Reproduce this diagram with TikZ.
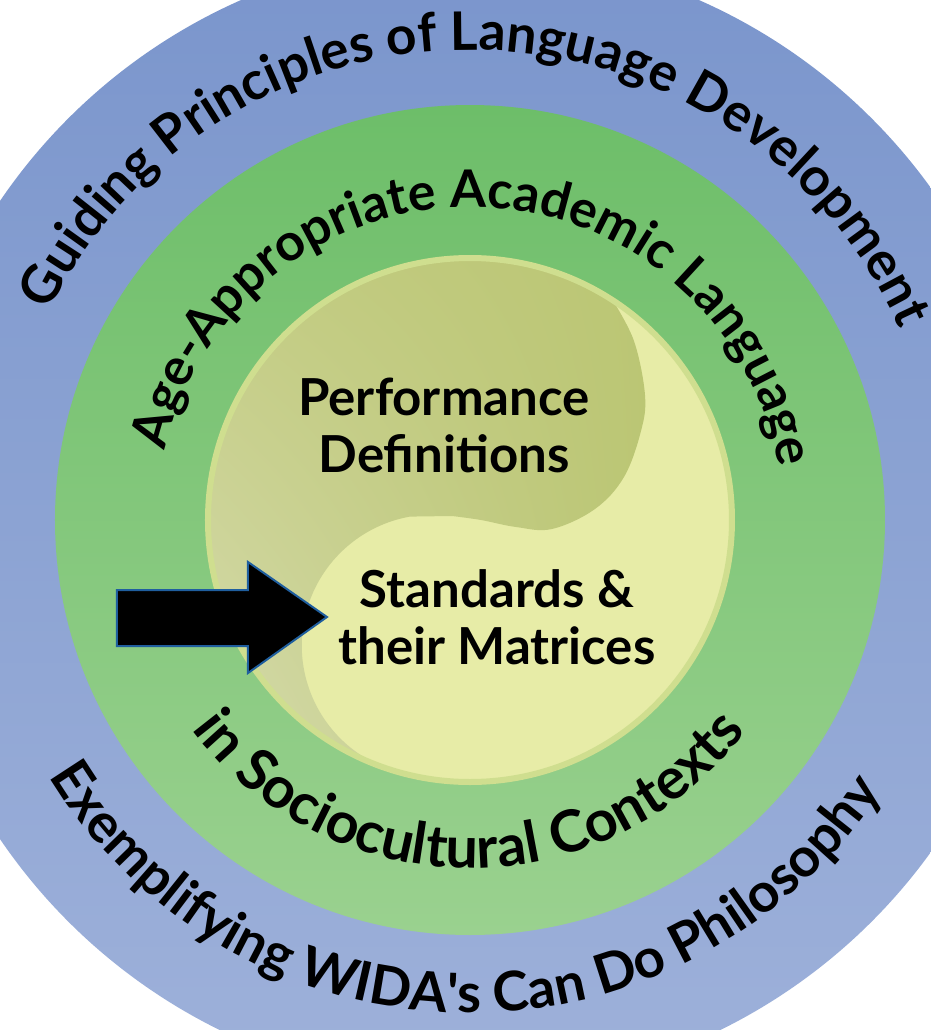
\documentclass[tikz,border=0pt]{standalone}
\usepackage{fontspec}
\newfontfamily\lato{Lato}
\usetikzlibrary{decorations.text,shadings}

\definecolor{ringblueTop}{HTML}{7A95CC}
\definecolor{ringblueBot}{HTML}{9EB1DA}
\definecolor{ringgreenTop}{HTML}{6DBE69}
\definecolor{ringgreenBot}{HTML}{9AD18F}
\definecolor{corelight}{HTML}{E7ECA7}
\definecolor{corerim}{HTML}{CFDE8F}
\definecolor{oliveA}{HTML}{BBC674}
\definecolor{oliveB}{HTML}{C2CB80}
\definecolor{oliveC}{HTML}{D7DCB0}
\definecolor{arrowline}{HTML}{1F5E9E}

\newcommand\ringfont[1]{\lato\bfseries\fontsize{#1}{#1}\selectfont}
\newcommand\corefont{\lato\bfseries\fontsize{25.5}{28.5}\selectfont}

\begin{document}
\begin{tikzpicture}[x=0.5pt,y=0.5pt,
  ringtext/.style={decorate, decoration={text along path, text align=center, text={#1}}},
  corelabel/.style={font=\corefont, align=center, inner sep=0pt},
]
\clip (-470,-510) rectangle (461,520);

% outer and middle rings
\shade[top color=ringblueTop, bottom color=ringblueBot] (0,0) circle[radius=568];
\shade[top color=ringgreenTop, bottom color=ringgreenBot] (0,0) circle[radius=415];

% core disk with its two interlocking halves
\fill[corelight] (0,0) circle[radius=264];
\shade[upper left=oliveB, upper right=oliveA, lower right=oliveA, lower left=oliveC]
  (57:262) arc[start angle=57, end angle=253.5, radius=262]
  arc[start angle=253.5, end angle=100, radius=131]
  -- plot[smooth, tension=0.6] coordinates {(-18,4) (11,0) (46,-7) (82,-9) (125,11) (154,43) (171,89) (175,125) (164,179) (142.7,219.7)}
  -- cycle;
\draw[corerim, line width=3pt] (0,0) circle[radius=262];

% ring captions
\path[ringtext={|\ringfont{26.6}|Guiding Principles of Language Development}]
  (178.8:470) arc[start angle=178.8, end angle=-1.2, radius=470];
\path[ringtext={|\ringfont{27.3}|Exemplifying WIDA's Can Do Philosophy}]
  (179:493) arc[start angle=179, end angle=359, radius=493];
\path[ringtext={|\ringfont{25.9}|Age-Appropriate Academic Language}]
  (178.4:313) arc[start angle=178.4, end angle=-1.6, radius=313];
\path[ringtext={|\ringfont{28.8}|in Sociocultural Contexts}]
  (179.8:348) arc[start angle=179.8, end angle=359.8, radius=348];

% core captions
\node[corelabel] (perf) at (-26,95) {Performance\\Definitions};
\node[corelabel] (std) at (27,-97) {Standards \&\\their Matrices};

% pointer arrow
\draw[fill=black, draw=arrowline, line width=1pt, line join=miter]
  (-353,-70) -- (-222,-70) -- (-222,-42) -- (-143,-97) -- (-222,-153)
  -- (-222,-126) -- (-353,-126) -- cycle;
\end{tikzpicture}
\end{document}
